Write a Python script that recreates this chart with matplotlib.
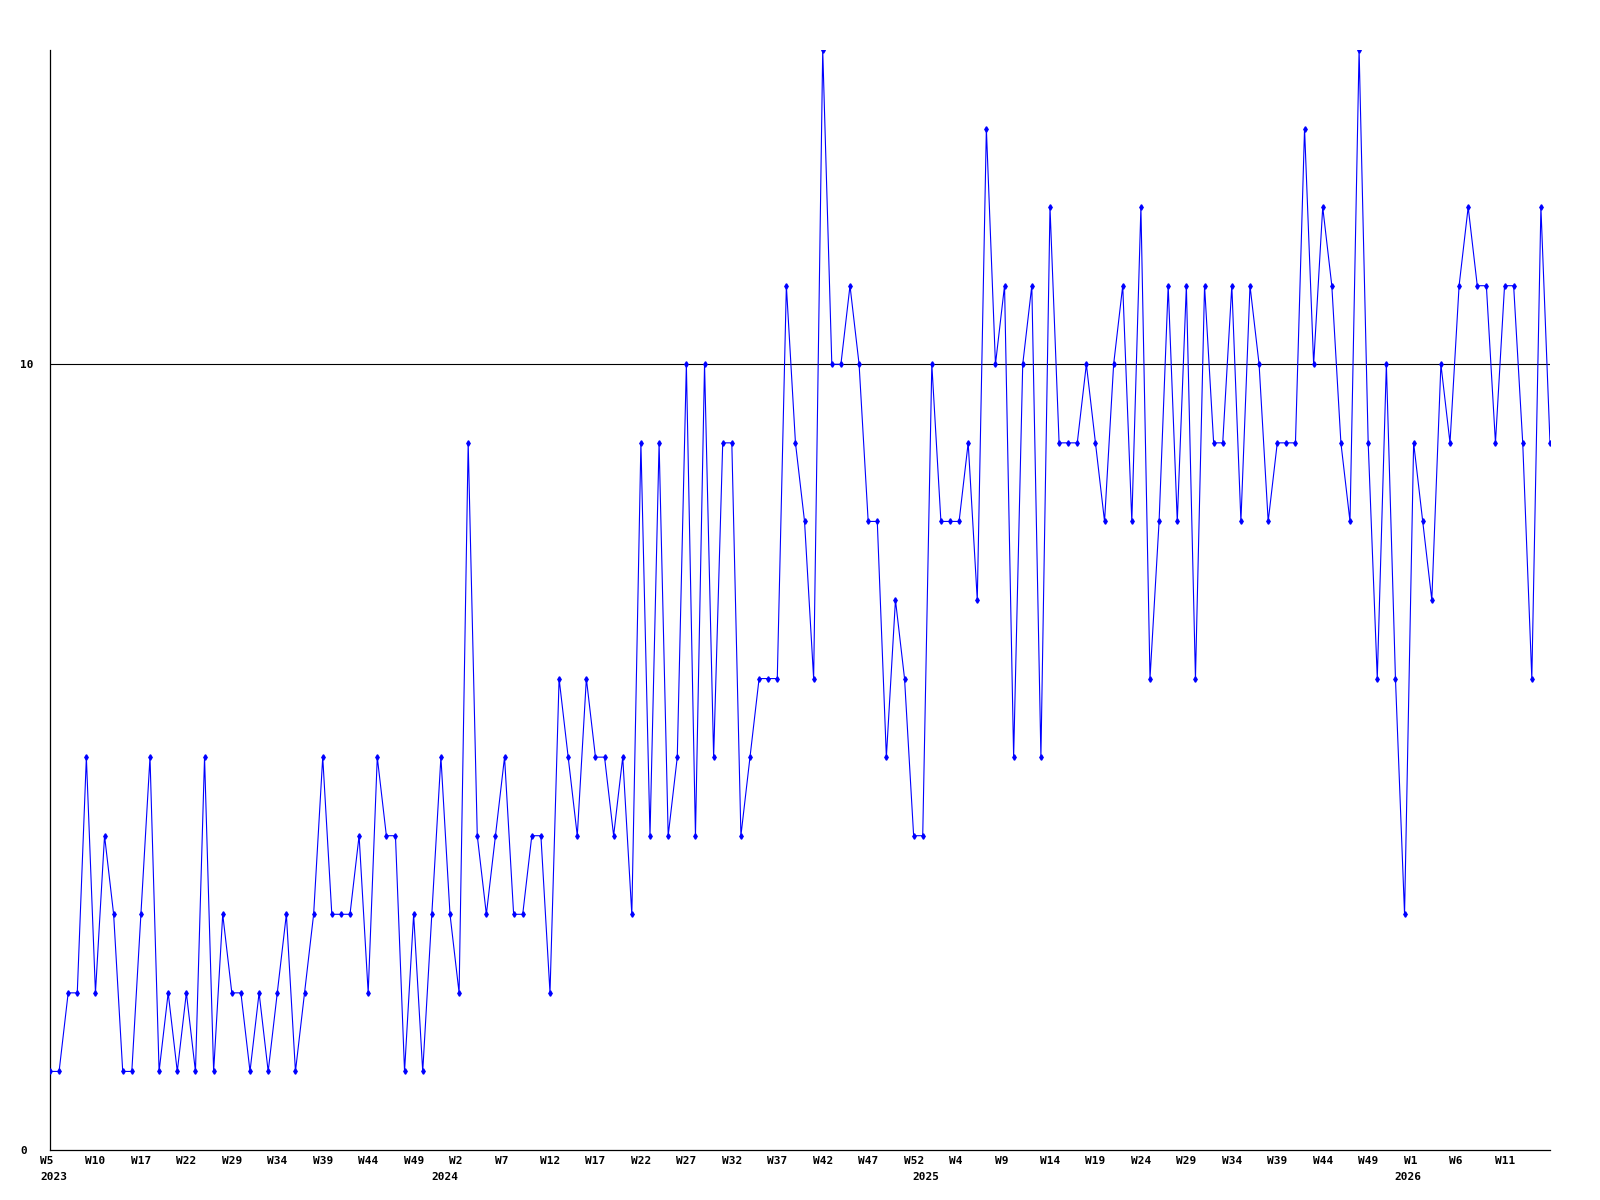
import matplotlib
matplotlib.use("Agg")
import matplotlib.pyplot as plt
import matplotlib.transforms as mtransforms

# weekly values, one per point
values = [
    1, 1, 2, 2, 5, 2, 4, 3, 1, 1, 3, 5, 1, 2, 1, 2, 1, 5, 1, 3,
    2, 2, 1, 2, 1, 2, 3, 1, 2, 3, 5, 3, 3, 3, 4, 2, 5, 4, 4, 1,
    3, 1, 3, 5, 3, 2, 9, 4, 3, 4, 5, 3, 3, 4, 4, 2, 6, 5, 4, 6,
    5, 5, 4, 5, 3, 9, 4, 9, 4, 5, 10, 4, 10, 5, 9, 9, 4, 5, 6, 6,
    6, 11, 9, 8, 6, 14, 10, 10, 11, 10, 8, 8, 5, 7, 6, 4, 4, 10, 8, 8,
    8, 9, 7, 13, 10, 11, 5, 10, 11, 5, 12, 9, 9, 9, 10, 9, 8, 10, 11, 8,
    12, 6, 8, 11, 8, 11, 6, 11, 9, 9, 11, 8, 11, 10, 8, 9, 9, 9, 13, 10,
    12, 11, 9, 8, 14, 9, 6, 10, 6, 3, 9, 8, 7, 10, 9, 11, 12, 11, 11, 9,
    11, 11, 9, 6, 12, 9,
]

week_labels = [
    "W5", "W10", "W17", "W22", "W29", "W34", "W39", "W44", "W49",
    "W2", "W7", "W12", "W17", "W22", "W27", "W32", "W37", "W42", "W47", "W52",
    "W4", "W9", "W14", "W19", "W24", "W29", "W34", "W39", "W44", "W49",
    "W1", "W6", "W11",
]
week_label_step = 5

years = ["2023", "2024", "2025", "2026"]
year_pos = [0, 43, 96, 149]

fig = plt.figure(figsize=(16, 12), dpi=100)
ax = fig.add_axes([50 / 1600, 50 / 1200, 1500 / 1600, 1100 / 1200])

x = list(range(len(values)))
ax.plot(x, values, color="#0000ff", lw=0.8, marker="d", ms=2.8,
        mec="#0000ff", mfc="#0000ff", zorder=3)

ax.axhline(10, color="black", lw=0.8, zorder=2)

ax.set_xlim(0, len(values) - 1)
ax.set_ylim(0, 14)

for side in ["top", "right"]:
    ax.spines[side].set_visible(False)
for side in ["left", "bottom"]:
    ax.spines[side].set_color("black")
    ax.spines[side].set_linewidth(0.9)

font = {"family": "DejaVu Sans Mono", "weight": "bold", "size": 8}

# y axis: only 0 and 10
ax.set_yticks([0, 10])
ax.set_yticklabels(["0", "10"], fontdict=font, ha="left")
ax.tick_params(axis="y", length=0, pad=21.6)

# x axis: week labels every 5 points, left shifted like the original
ticks = [i * week_label_step for i in range(len(week_labels))]
ax.set_xticks(ticks)
ax.set_xticklabels(week_labels, fontdict=font, ha="left")
ax.tick_params(axis="x", length=0, pad=4)
shift = mtransforms.ScaledTranslation(-10 / 100, 0, fig.dpi_scale_trans)
for lbl in ax.get_xticklabels():
    lbl.set_transform(lbl.get_transform() + shift)

# year labels under the week labels
trans = mtransforms.blended_transform_factory(ax.transData, ax.transAxes)
for yr, pos in zip(years, year_pos):
    ax.text(pos, 0, yr, transform=trans + mtransforms.ScaledTranslation(-10 / 100, -27 / 100, fig.dpi_scale_trans),
            ha="left", va="center", **font)

fig.savefig("out.png", dpi=100, facecolor="white")
